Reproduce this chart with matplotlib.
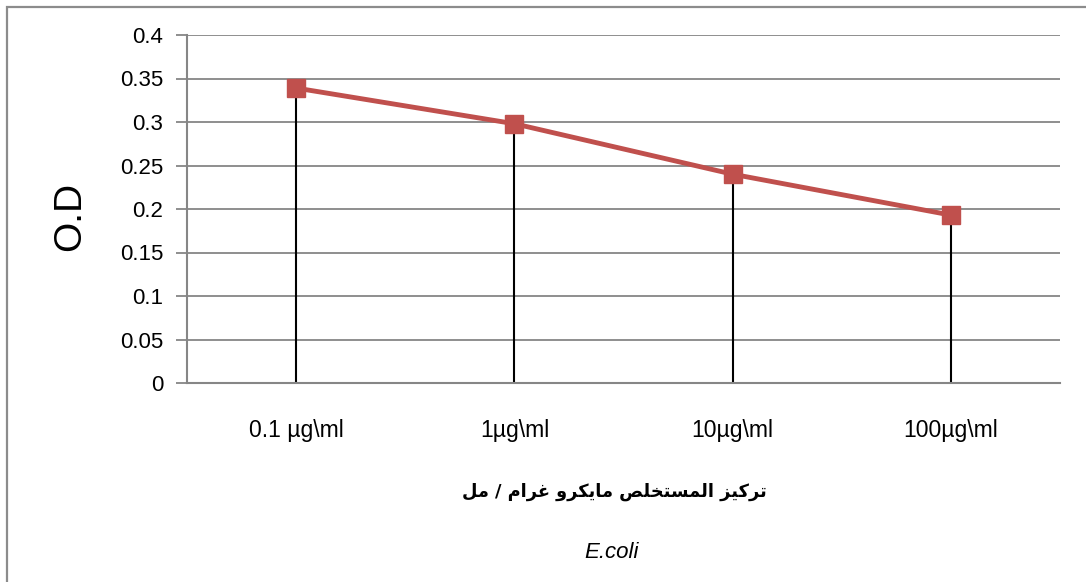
import matplotlib
matplotlib.use("Agg")
import matplotlib.pyplot as plt
from matplotlib.patches import Rectangle

categories = ["0.1 µg\\ml", "1µg\\ml", "10µg\\ml", "100µg\\ml"]
od = [0.339, 0.298, 0.240, 0.193]
yticks = [0, 0.05, 0.1, 0.15, 0.2, 0.25, 0.3, 0.35, 0.4]
ytick_labels = ["0", "0.05", "0.1", "0.15", "0.2", "0.25", "0.3", "0.35", "0.4"]
xlabel_ar = "تركيز المستخلص مايكرو غرام / مل"
title_bottom = "E.coli"

# arabic shaping by hand (matplotlib does no shaping / bidi)
forms = {
    "ا": ("\ufe8d", "\ufe8e", None, None),
    "ت": ("\ufe95", "\ufe96", "\ufe97", "\ufe98"),
    "خ": ("\ufea5", "\ufea6", "\ufea7", "\ufea8"),
    "ر": ("\ufead", "\ufeae", None, None),
    "ز": ("\ufeaf", "\ufeb0", None, None),
    "س": ("\ufeb1", "\ufeb2", "\ufeb3", "\ufeb4"),
    "ص": ("\ufeb9", "\ufeba", "\ufebb", "\ufebc"),
    "غ": ("\ufecd", "\ufece", "\ufecf", "\ufed0"),
    "ك": ("\ufed9", "\ufeda", "\ufedb", "\ufedc"),
    "ل": ("\ufedd", "\ufede", "\ufedf", "\ufee0"),
    "م": ("\ufee1", "\ufee2", "\ufee3", "\ufee4"),
    "و": ("\ufeed", "\ufeee", None, None),
    "ي": ("\ufef1", "\ufef2", "\ufef3", "\ufef4"),
}


def shape(s):
    out = []
    for i, c in enumerate(s):
        if c not in forms:
            out.append(c)
            continue
        p = s[i-1] if i > 0 else ""
        n = s[i+1] if i < len(s)-1 else ""
        prev_join = p in forms and forms[p][2] is not None
        next_join = n in forms and forms[c][2] is not None
        f = forms[c]
        if prev_join and next_join:
            out.append(f[3])
        elif prev_join:
            out.append(f[1])
        elif next_join:
            out.append(f[2])
        else:
            out.append(f[0])
    return "".join(out)[::-1]


plt.rcParams["font.family"] = ["Liberation Sans", "DejaVu Sans"]

fig = plt.figure(figsize=(10.86, 5.82), dpi=100)
fig.patches.append(Rectangle((7/1086, -0.05), 1.1, (575)/582+0.05, transform=fig.transFigure,
                             fill=False, edgecolor="#8c8c8c", linewidth=1.6))
ax = fig.add_axes([187/1086, 1-383/582, (1060-187)/1086, (383-35)/582])

x = list(range(len(categories)))
ax.vlines(x, 0, od, colors="black", linewidth=1.5, zorder=2)
ax.plot(x, od, color="#C0504D", linewidth=3.5, marker="s", markersize=13,
        markerfacecolor="#C0504D", markeredgecolor="#C0504D", zorder=3)

ax.set_xlim(-0.5, 3.5)
ax.set_ylim(0, 0.4)
ax.set_yticks(yticks)
ax.set_yticklabels(ytick_labels, fontsize=16)
ax.set_xticks(x)
ax.set_xticklabels(categories, fontsize=16.5)
ax.tick_params(axis="x", length=0, pad=26)
ax.tick_params(axis="y", length=8, width=1.3, color="#868686", pad=9)
ax.yaxis.grid(True, color="#868686", linewidth=1.3)
ax.set_axisbelow(True)
for s in ["top", "right"]:
    ax.spines[s].set_visible(False)
for s in ["left", "bottom"]:
    ax.spines[s].set_color("#868686")
    ax.spines[s].set_linewidth(1.5)

fig.text(70/1086, 1-216/582, "O.D", fontsize=28, rotation=90, ha="center", va="center")
fig.text(614/1086, 1-492/582, shape(xlabel_ar), fontsize=12.8, fontweight="bold",
         family="DejaVu Sans", ha="center", va="center")
fig.text(612/1086, 1-553/582, title_bottom, fontsize=16, style="italic", ha="center", va="center")

fig.savefig("out.png", dpi=100)
